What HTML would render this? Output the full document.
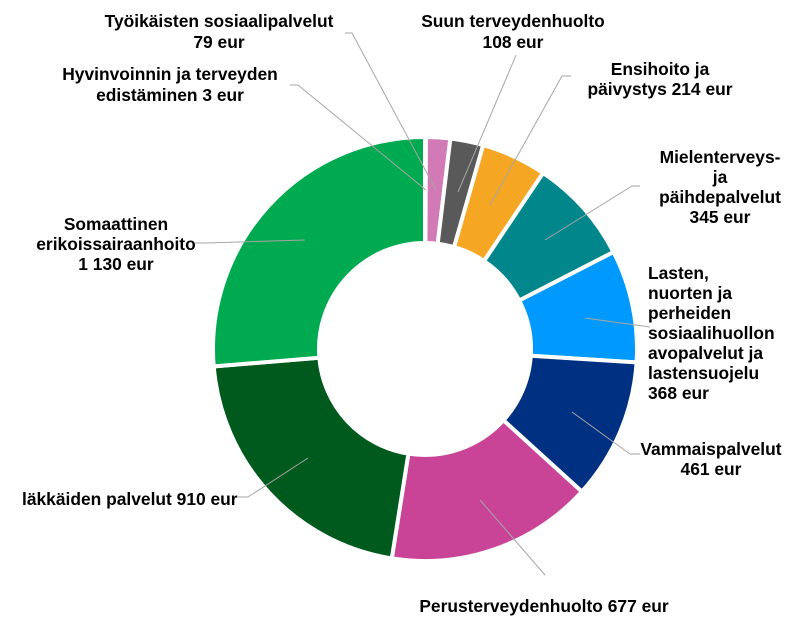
<!DOCTYPE html>
<html><head><meta charset="utf-8"><style>
body{margin:0;background:#fff;width:809px;height:624px;overflow:hidden}
svg text{font-family:"Liberation Sans",Arial,sans-serif;font-weight:bold;font-size:17.4px;fill:#000}
</style></head><body>
<svg id="s" width="809" height="624" xmlns="http://www.w3.org/2000/svg">
<g id="d"></g>
<g stroke="#a6a6a6" stroke-width="1" fill="none">
<polyline points="345,33 352,33 436,190"/>
<polyline points="290,85 298,85 426,190"/>
<polyline points="516,55 514,60 458,192"/>
<polyline points="571,76 562,76 490,205"/>
<polyline points="640,186 632,186 545,240"/>
<polyline points="650,327 585,318"/>
<polyline points="640,454 630,454 572,412"/>
<polyline points="545,575 480,500"/>
<polyline points="238,497 248,497 308,458"/>
<polyline points="195,243 205,243 305,240"/>
</g>
<g text-anchor="middle">
<text x="219" y="27">Työikäisten sosiaalipalvelut</text>
<text x="219" y="48">79 eur</text>
<text x="170" y="80">Hyvinvoinnin ja terveyden</text>
<text x="170" y="101">edistäminen 3 eur</text>
<text x="513" y="27">Suun terveydenhuolto</text>
<text x="513" y="48">108 eur</text>
<text x="660" y="75">Ensihoito ja</text>
<text x="660" y="95">päivystys 214 eur</text>
<text x="720" y="163">Mielenterveys-</text>
<text x="720" y="183">ja</text>
<text x="720" y="203">päihdepalvelut</text>
<text x="720" y="223">345 eur</text>
<text x="116" y="230">Somaattinen</text>
<text x="116" y="250">erikoissairaanhoito</text>
<text x="116" y="270">1 130 eur</text>
<text x="711" y="455">Vammaispalvelut</text>
<text x="711" y="475">461 eur</text>
<text x="544" y="612">Perusterveydenhuolto 677 eur</text>
</g>
<g text-anchor="start">
<text x="648" y="279">Lasten,</text>
<text x="648" y="299">nuorten ja</text>
<text x="648" y="319">perheiden</text>
<text x="648" y="339">sosiaalihuollon</text>
<text x="648" y="359">avopalvelut ja</text>
<text x="648" y="379">lastensuojelu</text>
<text x="648" y="399">368 eur</text>
<text x="22" y="505">läkkäiden palvelut 910 eur</text>
</g>
</svg>
<script>
var v=[3,79,108,214,345,368,461,677,910,1130];
var c=["#00aa50","#d17ab5","#595959","#f5a623","#00868b","#0099ff","#003082","#c94496","#005a1e","#00aa50"];
var t=v.reduce((a,b)=>a+b,0),cx=425,cy=349,R=212,r=106,a=0,h="";
function p(rad,ang){return [cx+rad*Math.sin(ang),cy-rad*Math.cos(ang)];}
for(var i=0;i<v.length;i++){var a2=a+v[i]/t*2*Math.PI,l=(a2-a)>Math.PI?1:0;
var p1=p(R,a),p2=p(R,a2),p3=p(r,a2),p4=p(r,a);
h+='<path d="M'+p1+' A'+R+','+R+' 0 '+l+' 1 '+p2+' L'+p3+' A'+r+','+r+' 0 '+l+' 0 '+p4+'Z" fill="'+c[i]+'" stroke="#fff" stroke-width="4" stroke-linejoin="miter"/>';a=a2;}
document.getElementById("d").innerHTML=h;
</script>
</body></html>
